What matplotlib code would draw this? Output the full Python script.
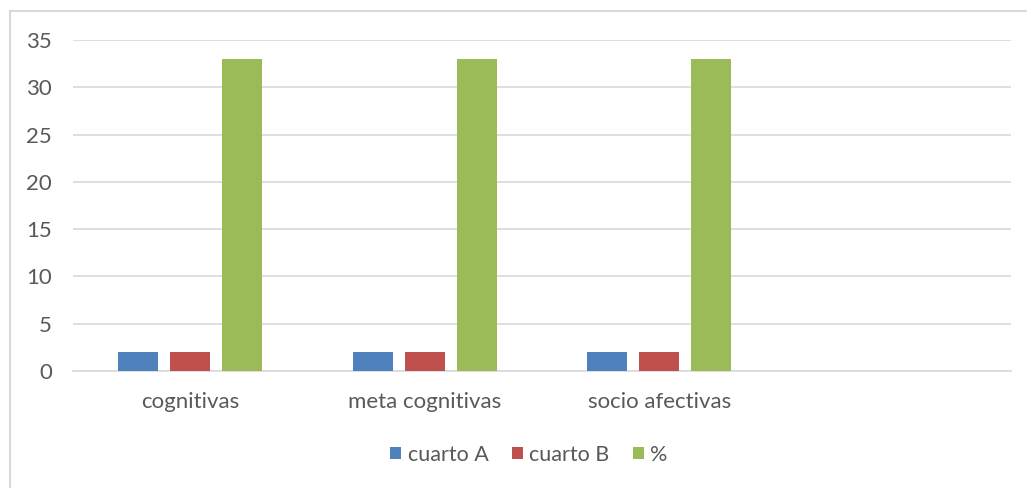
import matplotlib
matplotlib.use("Agg")
import matplotlib.pyplot as plt
from matplotlib.patches import Rectangle
import numpy as np

categories = ["cognitivas", "meta cognitivas", "socio afectivas", ""]
series_names = ["cuarto A", "cuarto B", "%"]
cuarto_a = [2, 2, 2, np.nan]
cuarto_b = [2, 2, 2, np.nan]
pct = [33, 33, 33, np.nan]
yticks = [0, 5, 10, 15, 20, 25, 30, 35]

colors = ["#4F81BD", "#C0504D", "#9BBB59"]
text_color = "#595959"
grid_color = "#D9D9D9"

plt.rcParams['font.family'] = ['Lato', 'DejaVu Sans']

W, H = 1027, 488
fig = plt.figure(figsize=(W / 100, H / 100), dpi=100)
ax = fig.add_axes([73 / W, 1 - 371 / H, (1011 - 73) / W, (371 - 40) / H])

x = np.arange(len(categories))
bw = 40 / 234.5
step = 52 / 234.5
for i, (vals, name) in enumerate(zip([cuarto_a, cuarto_b, pct], series_names)):
    ax.bar(x + (i - 1) * step, vals, width=bw, color=colors[i], label=name, zorder=3)

ax.set_xlim(-0.5, len(categories) - 0.5)
ax.set_ylim(0, 35)
ax.set_yticks(yticks)
ax.set_xticks(x)
ax.set_xticklabels(categories)
ax.yaxis.grid(True, color=grid_color, linewidth=1.2, zorder=0)
for s in ["left", "right", "top"]:
    ax.spines[s].set_visible(False)
ax.spines["bottom"].set_color(grid_color)
ax.spines["bottom"].set_linewidth(1.2)
ax.tick_params(axis="both", length=0, colors=text_color, labelsize=16)
ax.tick_params(axis="y", pad=15)
ax.tick_params(axis="x", pad=15)

handles, labels = ax.get_legend_handles_labels()
fig.legend(handles, labels, loc="center", bbox_to_anchor=(529 / W, 1 - 455 / H),
           ncol=3, frameon=False, fontsize=15.5, labelcolor=text_color,
           handlelength=0.5, handleheight=0.5, handletextpad=0.3, columnspacing=1.1)

fig.patches.append(Rectangle((10 / W, -0.1), 1.2, 1 - 11 / H + 0.1, transform=fig.transFigure,
                             fill=False, edgecolor=grid_color, linewidth=1.5, zorder=0))

fig.savefig("out.png", dpi=100, facecolor="white")
